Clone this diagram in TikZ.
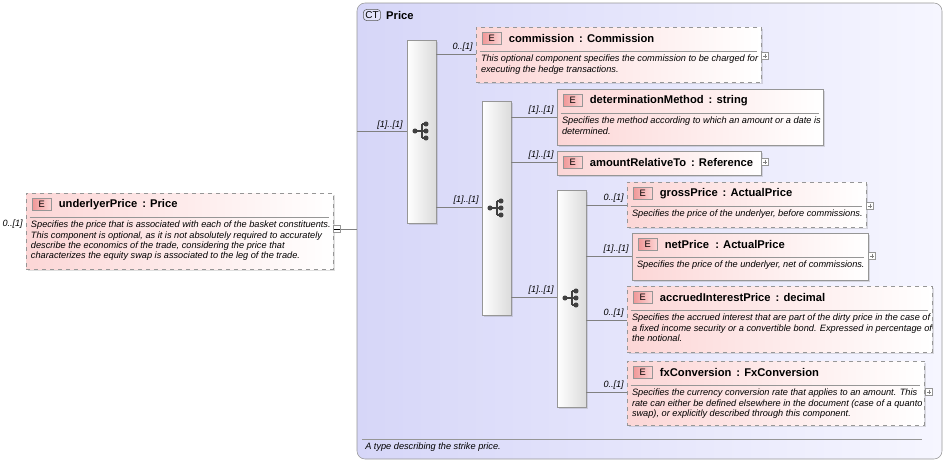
\documentclass[tikz,border=0pt]{standalone}
\usepackage{fontspec}
\setmainfont{Liberation Sans}
\usepackage{tikz}
\usetikzlibrary{calc,fit,shadows}

\definecolor{ctblue}{RGB}{214,214,248}
\definecolor{ctpale}{RGB}{246,246,255}
\definecolor{elpink}{RGB}{252,214,214}
\definecolor{edge}{RGB}{150,150,150}
\definecolor{badgered}{RGB}{240,150,150}

\tikzset{
  optbox/.style={draw=edge, dashed, left color=elpink, right color=white, inner sep=0pt,
    drop shadow={opacity=.25, shadow xshift=1.5pt, shadow yshift=-1.5pt}},
  reqbox/.style={draw=edge, left color=elpink, right color=white, inner sep=0pt,
    drop shadow={opacity=.25, shadow xshift=1.5pt, shadow yshift=-1.5pt}},
  badge/.style={draw=edge, left color=badgered, right color=elpink, minimum width=14.5pt,
    minimum height=9.5pt, inner sep=0pt, font=\fontsize{7}{8}\selectfont},
  eltitle/.style={inner sep=0pt, font=\fontsize{8.4}{10}\selectfont\bfseries},
  eldesc/.style={inner sep=0pt, align=left, font=\fontsize{6.9}{7.8}\selectfont\itshape},
  rule/.style={draw=edge, line width=.4pt},
  seqbar/.style={draw=edge, left color=white, right color=gray!28, inner sep=0pt,
    drop shadow={opacity=.25, shadow xshift=1.5pt, shadow yshift=-1.5pt}},
  conn/.style={draw=gray, line width=.5pt},
  card/.style={inner sep=0pt, font=\fontsize{6.8}{7}\selectfont\itshape},
  pm/.style={draw=edge, fill=white, minimum size=5.5pt, inner sep=0pt},
}

% element box: name, x1, y1, x2, y2, style, title, description
\newcommand\elembox[8]{%
  \path (#2,#3) coordinate (#1-nw) (#4,#5) coordinate (#1-se);
  \node[#6, fit=(#1-nw)(#1-se)] (#1) {};
  \node[badge, anchor=north west] (#1-e) at ($(#1.north west)+(6,5)$) {E};
  \node[eltitle, anchor=west] (#1-t) at ($(#1-e.east)+(7,0)$) {#7};
  \ifx&#8&\else
    \draw[rule] ($(#1.north west)+(4,25)$) -- ($(#1.north east)+(-4,25)$);
    \node[eldesc, anchor=north west] (#1-d) at ($(#1.north west)+(5,28)$) {#8};
  \fi
}
% sequence compositor symbol
\newcommand\seqsym[1]{%
  \fill[black!75] ($(#1)+(-7,0)$) circle (1.9pt);
  \draw[black!75, line width=.8pt] ($(#1)+(-7,0)$) -- ($(#1)+(0,0)$)
    ($(#1)+(0,-7)$) -- ($(#1)+(0,7)$);
  \foreach \dy in {-7,0,7} {
    \draw[black!75, line width=.8pt] ($(#1)+(0,\dy)$) -- ($(#1)+(4,\dy)$);
    \fill[black!75] ($(#1)+(4,\dy)$) circle (1.9pt);
  }
}

\begin{document}
\begin{tikzpicture}[x=0.75pt, y=-0.75pt]
  \useasboundingbox (0,0) rectangle (946,462);

  % complex type frame
  \node[draw=edge, rounded corners=6pt, left color=ctblue, right color=ctpale, inner sep=0pt,
    fit={(357,3)(942,459)}] (price) {};
  \node[draw=gray!70!black, rounded corners=2.5pt, fill=ctblue!70, inner sep=1.5pt,
    font=\fontsize{7.5}{8}\selectfont] (ct) at (372,15) {CT};
  \node[anchor=west, inner sep=0pt, font=\fontsize{8.4}{10}\selectfont\bfseries] (pricet)
    at ($(ct.east)+(5,0)$) {Price};
  \draw[rule] (362,439) coordinate (bl) -- (922,439) coordinate (br);
  \node[eldesc, anchor=west] (pricedesc) at (365,447) {A type describing the strike price.};

  % root element
  \elembox{under}{26}{193}{333}{269}{optbox}{underlyerPrice\ \,: Price}
    {Specifies the price that is associated with each of the basket constituents.\\
     This component is optional, as it is not absolutely required to accurately\\
     describe the economics of the trade, considering the price that\\
     characterizes the equity swap is associated to the leg of the trade.}
  \node[card, anchor=east] (undercard) at (23,224) {0..[1]};
  \node[pm] (underpm) at (337,229) {};
  \draw[line width=.4pt] ($(underpm.west)+(1,0)$) -- ($(underpm.east)+(-1,0)$);
  \coordinate (framein) at (357,229);
  \draw[conn] (underpm.east) -- (framein);

  % sequences
  \node[seqbar, fit={(407,40)(436,223)}] (seqA) {};
  \node[seqbar, fit={(482,101)(511,315)}] (seqB) {};
  \node[seqbar, fit={(557,190)(586,407)}] (seqC) {};
  \seqsym{422,131}
  \seqsym{497,208}
  \seqsym{572,298}

  % child elements
  \elembox{comm}{476}{27}{761}{82}{optbox}{commission\ \,: Commission}
    {This optional component specifies the commission to be charged for\\
     executing the hedge transactions.}
  \elembox{detm}{557}{89}{823}{145}{reqbox}{determinationMethod\ \,: string}
    {Specifies the method according to which an amount or a date is\\ determined.}
  \elembox{amrel}{557}{151}{761}{175}{reqbox}{amountRelativeTo\ \,: Reference}{}
  \elembox{gross}{627}{182}{866}{227}{optbox}{grossPrice\ \,: ActualPrice}
    {Specifies the price of the underlyer, before commissions.}
  \elembox{net}{632}{233}{868}{280}{reqbox}{netPrice\ \ : ActualPrice}
    {Specifies the price of the underlyer, net of commissions.}
  \elembox{accr}{627}{286}{932}{352}{optbox}{accruedInterestPrice\ \,: decimal}
    {Specifies the accrued interest that are part of the dirty price in the case of\\
     a fixed income security or a convertible bond. Expressed in percentage of\\
     the notional.}
  \elembox{fxc}{627}{361}{924}{425}{optbox}{fxConversion\ \,: FxConversion}
    {Specifies the currency conversion rate that applies to an amount. This\\
     rate can either be defined elsewhere in the document (case of a quanto\\
     swap), or explicitly described through this component.}

  % expand markers
  \foreach \n/\x/\y in {comm/765/56, amrel/765/162, gross/870/206, net/872/256, fxc/929/392} {
    \node[pm] (\n-pm) at (\x,\y) {};
    \draw[line width=.3pt, gray] ($(\n-pm.west)+(1.5,0)$) -- ($(\n-pm.east)+(-1.5,0)$)
      ($(\n-pm.north)+(0,1.5)$) -- ($(\n-pm.south)+(0,-1.5)$);
  }

  % connectors with cardinalities
  \coordinate (frameA) at (357,131);
  \draw[conn] (frameA) -- (seqA.west |- frameA);
  \node[card] (cA) at (390,125) {[1]..[1]};
  \foreach \s/\t/\y/\c in {seqA/comm/54/0..[1], seqA/seqB/207/[1]..[1],
      seqB/detm/117/[1]..[1], seqB/amrel/162/[1]..[1], seqB/seqC/297/[1]..[1],
      seqC/gross/205/0..[1], seqC/net/256/[1]..[1], seqC/accr/320/0..[1], seqC/fxc/392/0..[1]} {
    \draw[conn] (\s.east |- 0,\y) -- (\t.west |- 0,\y)
      node[card, pos=1, anchor=south east, xshift=-2pt, yshift=1.5pt] {\c};
  }
\end{tikzpicture}
\end{document}
